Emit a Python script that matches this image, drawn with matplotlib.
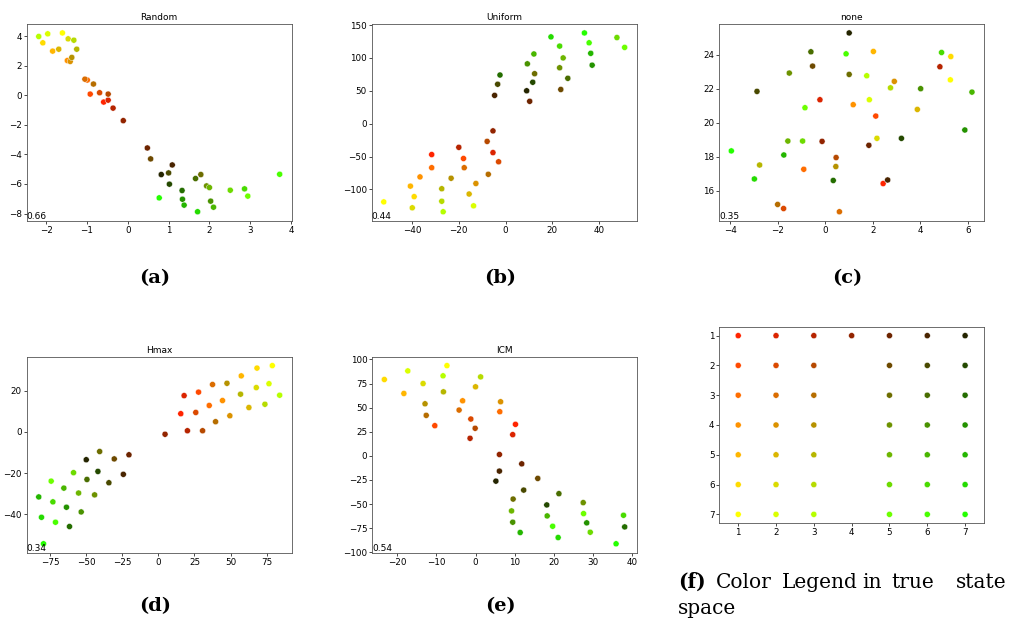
import matplotlib
matplotlib.use("Agg")
import matplotlib.pyplot as plt
from matplotlib.ticker import MultipleLocator

# states of the 7x7 grid (column 4 only has row 1)
state_col = [1] * 7 + [2] * 7 + [3] * 7 + [4] + [5] * 7 + [6] * 7 + [7] * 7
state_row = list(range(1, 8)) * 3 + [1] + list(range(1, 8)) * 3

# embeddings, one (x, y) per state, same order as above
random_x = [-0.59, -0.92, -0.99, -1.48, -1.84, -2.08, -1.60,
            -0.48, -0.69, -1.05, -1.41, -1.69, -1.46, -1.96,
            -0.36, -0.48, -0.84, -1.37, -1.25, -1.32, -2.18,
            -0.11,
            0.48, 0.56, 1.79, 1.93, 2.00, 2.51, 2.94,
            1.09, 1.00, 1.66, 2.03, 2.10, 2.86, 3.72,
            0.82, 1.02, 1.33, 1.34, 1.38, 1.71, 0.77]
random_y = [-0.45, 0.09, 1.04, 2.36, 3.00, 3.56, 4.23,
            -0.32, 0.18, 1.10, 2.30, 3.13, 3.83, 4.17,
            -0.86, 0.09, 0.77, 2.57, 3.13, 3.74, 3.99,
            -1.71,
            -3.56, -4.30, -5.36, -6.13, -6.24, -6.42, -6.82,
            -4.71, -5.25, -5.63, -7.16, -7.57, -6.33, -5.34,
            -5.36, -6.01, -6.44, -7.03, -7.43, -7.88, -6.94]

uniform_x = [-31.6, -18.0, -31.6, -36.6, -40.7, -39.1, -52.1,
             -5.4, -3.0, -17.7, -12.7, -15.6, -39.9, -13.7,
             -20.0, -7.9, -7.4, -23.3, -27.3, -27.3, -26.7,
             -5.4,
             10.3, 23.6, 12.4, 23.1, 24.6, 47.6, 50.9,
             -4.7, -3.4, 26.6, 9.3, 12.1, 23.1, 35.7,
             9.0, 11.6, -2.4, 37.0, 36.4, 19.4, 33.7]
uniform_y = [-47, -53, -67, -81, -95, -111, -119,
             -44, -58, -67, -91, -107, -128, -125,
             -36, -27, -77, -83, -99, -118, -134,
             -11,
             34, 52, 76, 85, 100, 131, 116,
             43, 60, 69, 91, 106, 118, 123,
             50, 63, 74, 89, 107, 132, 138]

none_x = [2.44, 2.13, -0.90, 1.18, 2.03, 5.29, 5.27,
          -0.22, -1.75, 0.60, 2.91, 3.88, 2.18, 1.86,
          4.83, 0.46, -2.00, 0.45, -2.76, 2.75, 1.75,
          -0.13,
          1.84, -0.53, 1.01, -1.51, -1.57, -0.95, -0.85,
          2.63, -2.87, -0.60, 4.02, 6.18, 4.90, 0.88,
          1.01, 3.21, 0.34, 5.88, -1.74, -2.98, -3.95]
none_y = [16.42, 20.39, 17.26, 21.06, 24.19, 23.89, 22.52,
          21.35, 14.95, 14.76, 22.43, 20.78, 19.08, 21.35,
          23.29, 17.95, 15.19, 17.42, 17.51, 22.05, 22.76,
          18.90,
          18.67, 23.33, 22.84, 22.92, 18.92, 18.92, 20.88,
          16.63, 21.84, 24.17, 22.00, 21.80, 24.13, 24.05,
          25.28, 19.08, 16.60, 19.57, 18.10, 16.69, 18.34]

hmax_x = [15.5, 27.8, 35.2, 44.4, 57.4, 68.3, 78.9,
          17.8, 25.9, 37.5, 49.5, 62.7, 67.8, 76.6,
          20.1, 30.6, 39.6, 47.5, 56.9, 73.8, 84.0,
          4.6,
          -20.4, -30.6, -40.7, -44.2, -55.3, -58.8, -74.3,
          -24.3, -34.3, -49.5, -53.5, -65.5, -73.1, -71.3,
          -50.0, -41.9, -61.6, -63.7, -82.9, -81.0, -79.6]
hmax_y = [8.9, 19.4, 12.9, 15.3, 27.3, 31.1, 32.3,
          17.7, 9.5, 23.1, 7.9, 11.9, 21.6, 23.5,
          0.6, 0.6, 5.0, 23.7, 18.4, 13.5, 17.9,
          -1.1,
          -11.1, -13.1, -9.5, -30.6, -29.7, -19.8, -23.9,
          -20.6, -24.7, -23.1, -38.9, -27.3, -34.0, -43.9,
          -13.5, -19.2, -46.0, -36.6, -31.6, -41.5, -54.4]

icm_x = [10.2, -10.4, 6.2, -3.3, -18.3, -23.3, -7.3,
         9.5, -1.2, -4.2, 6.4, 0.0, -13.4, -17.3,
         -1.4, -0.1, -12.6, -12.9, -8.2, 1.3, -8.3,
         6.1,
         11.8, 15.9, 9.6, 27.5, 9.2, 29.3, 27.6,
         6.1, 12.3, 21.3, 9.5, 18.3, 37.8, 19.7,
         5.2, 18.2, 38.1, 28.4, 11.4, 21.1, 35.9]
icm_y = [32.7, 31.3, 45.8, 57.1, 64.7, 79.2, 93.6,
         22.0, 38.2, 47.5, 56.1, 71.6, 75.0, 88.1,
         18.2, 28.6, 42.0, 54.0, 66.4, 81.9, 83.0,
         1.4,
         -8.3, -23.4, -44.8, -48.5, -57.1, -79.2, -59.9,
         -15.8, -35.5, -39.2, -68.8, -62.3, -61.6, -73.0,
         -26.2, -50.9, -73.7, -69.5, -79.5, -84.7, -91.2]

panel_titles = ["Random", "Uniform", "none", "Hmax", "ICM"]
panel_scores = ["0.66", "0.44", "0.35", "0.34", "0.54"]
panel_letters = ["(a)", "(b)", "(c)", "(d)", "(e)"]

# color from true position: red -> black along columns, up to yellow/green along rows
colors = [((8 - c) / 7, r / 7, 0.0) for c, r in zip(state_col, state_row)]

W, H = 1025, 626
fig = plt.figure(figsize=(W / 100, H / 100), dpi=100)


def make_ax(left, top, right, bottom):
    return fig.add_axes([left / W, 1 - bottom / H, (right - left) / W, (bottom - top) / H])


def style_ax(ax):
    ax.tick_params(labelsize=6.3, length=2, width=0.5, pad=1.5)
    for sp in ax.spines.values():
        sp.set_linewidth(0.6)
        sp.set_color("#555555")


boxes = [(26.7, 24, 291.7, 220.7), (371.7, 24, 636.7, 220.7), (719.3, 24, 984, 220.7),
         (26.7, 356.7, 291.7, 552.7), (372.3, 356.7, 636.7, 552.7)]
data = [(random_x, random_y), (uniform_x, uniform_y), (none_x, none_y),
        (hmax_x, hmax_y), (icm_x, icm_y)]
steps = [(1, 2), (20, 50), (2, 2), (25, 20), (10, 25)]

for box, (xs, ys), title, score, (sx, sy) in zip(boxes, data, panel_titles, panel_scores, steps):
    ax = make_ax(*box)
    ax.scatter(xs, ys, c=colors, s=19, edgecolors="white", linewidths=0.3, zorder=3)
    ax.set_title(title, fontsize=6.5, pad=3)
    ax.xaxis.set_major_locator(MultipleLocator(sx))
    ax.yaxis.set_major_locator(MultipleLocator(sy))
    ax.text(0.0, 0.0, score, transform=ax.transAxes, fontsize=6.5, ha="left", va="bottom")
    style_ax(ax)

# color legend in the true state space
ax = make_ax(719.3, 326.7, 984, 523.3)
ax.scatter(state_col, state_row, c=colors, s=19, edgecolors="white", linewidths=0.3, zorder=3)
ax.set_xlim(0.5, 7.5)
ax.set_ylim(7.3, 0.7)
ax.set_xticks(range(1, 8))
ax.set_yticks(range(1, 8))
style_ax(ax)

# sub-captions
cap = dict(fontsize=14, family="DejaVu Serif", ha="center", va="center")
for (x, y), lab in zip([(155, 278), (500, 278), (847, 278), (155, 606), (500, 606)], panel_letters):
    fig.text(x / W, 1 - y / H, lab, fontweight="bold", **cap)

words = [("(f)", 678, "bold"), ("Color", 716, "normal"), ("Legend", 782, "normal"),
         ("in", 862, "normal"), ("true", 891, "normal"), ("state", 956, "normal")]
for w, x, fw in words:
    fig.text(x / W, 1 - 582 / H, w, fontsize=14.5, family="DejaVu Serif",
             fontweight=fw, ha="left", va="center")
fig.text(678 / W, 1 - 609 / H, "space", fontsize=14.5, family="DejaVu Serif",
         ha="left", va="center")

fig.savefig("out.png", dpi=100)
